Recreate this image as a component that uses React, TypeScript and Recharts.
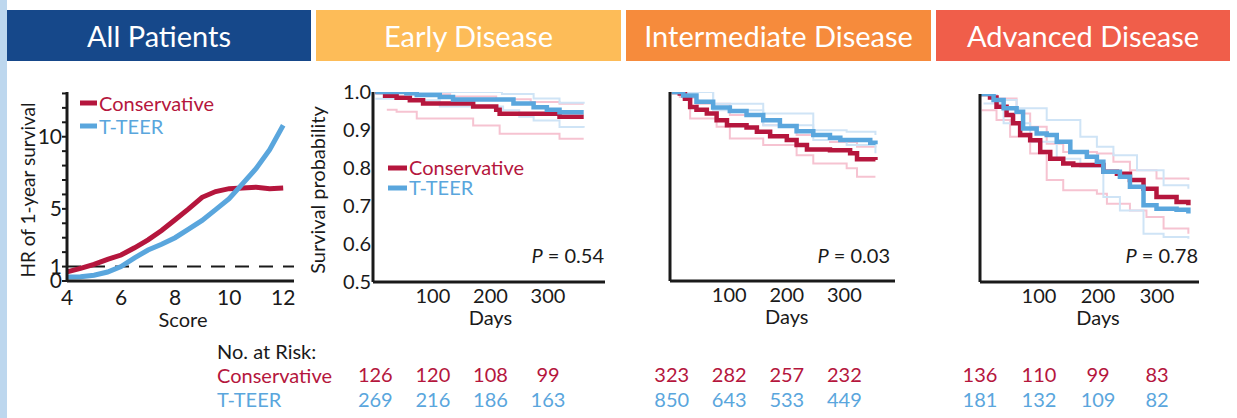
import React from 'react';
import { LineChart, Line, XAxis, YAxis, ReferenceLine } from 'recharts';

const RED = '#b5163d';
const BLUE = '#5aa6dd';
const RED_CI = '#f6c3d1';
const BLUE_CI = '#cfe4f6';
const INK = '#1a1a1a';
const FONT = 'Lato, "Open Sans", sans-serif';

// All patients: HR of 1-year survival by score
const scores = [4, 4.5, 5, 5.5, 6, 6.5, 7, 7.5, 8, 8.5, 9, 9.5, 10, 10.5, 11, 11.5, 12];
const hrConservative = [0.63, 0.88, 1.15, 1.5, 1.8, 2.3, 2.85, 3.5, 4.25, 5.0, 5.8, 6.2, 6.4, 6.45, 6.5, 6.4, 6.45];
const hrTeer = [0.28, 0.3, 0.4, 0.62, 1.0, 1.6, 2.15, 2.55, 3.0, 3.6, 4.2, 4.95, 5.7, 6.75, 7.8, 9.1, 10.8];
const scoreTicks = [4, 6, 8, 10, 12];
const hrTicks = [0, 1, 2, 3, 4, 5, 6, 7, 8, 9, 10, 11, 12, 13];
const hrLabels = [0, 1, 5, 10];

const dayTicks = [0, 100, 200, 300];
const survTicks = [0.5, 0.6, 0.7, 0.8, 0.9, 1.0];

type Pt = [number, number];

// Early disease: [day, survival]
const earlyCons: Pt[] = [[0, 1], [17, 0.99], [37, 0.985], [60, 0.978], [83, 0.97], [170, 0.962], [210, 0.953], [216, 0.943], [320, 0.935], [362, 0.935]];
const earlyTeer: Pt[] = [[0, 1], [54, 0.997], [72, 0.992], [112, 0.987], [135, 0.98], [240, 0.97], [275, 0.96], [298, 0.953], [320, 0.947], [362, 0.947]];
const earlyConsHi: Pt[] = [[0, 1], [60, 0.994], [130, 0.988], [210, 0.981], [270, 0.974], [320, 0.969], [362, 0.969]];
const earlyConsLo: Pt[] = [[20, 0.953], [37, 0.948], [72, 0.93], [170, 0.912], [216, 0.89], [320, 0.877], [362, 0.877]];
const earlyTeerHi: Pt[] = [[0, 1], [220, 0.995], [275, 0.983], [320, 0.972], [362, 0.969]];
const earlyTeerLo: Pt[] = [[0, 0.982], [72, 0.978], [112, 0.962], [222, 0.952], [250, 0.935], [275, 0.925], [320, 0.908], [362, 0.906]];
const riskEarlyCons = [126, 120, 108, 99];
const riskEarlyTeer = [269, 216, 186, 163];

// Intermediate disease
const interCons: Pt[] = [[0, 1], [14, 0.996], [23, 0.982], [32, 0.96], [43, 0.953], [61, 0.943], [78, 0.925], [96, 0.912], [130, 0.906], [148, 0.895], [171, 0.883], [200, 0.873], [217, 0.86], [235, 0.848], [275, 0.846], [310, 0.838], [322, 0.822], [354, 0.82]];
const interTeer: Pt[] = [[0, 1], [20, 0.991], [43, 0.974], [72, 0.959], [101, 0.95], [130, 0.939], [159, 0.925], [188, 0.91], [217, 0.896], [246, 0.886], [275, 0.879], [293, 0.873], [345, 0.866], [354, 0.862]];
const interConsHi: Pt[] = [[0, 1], [20, 0.985], [43, 0.969], [101, 0.939], [159, 0.912], [217, 0.886], [275, 0.868], [322, 0.855], [354, 0.853]];
const interConsLo: Pt[] = [[0, 1], [14, 0.987], [32, 0.93], [78, 0.908], [101, 0.877], [159, 0.86], [217, 0.833], [246, 0.811], [304, 0.798], [322, 0.776], [354, 0.776]];
const interTeerHi: Pt[] = [[0, 1], [72, 0.969], [159, 0.943], [246, 0.899], [304, 0.895], [354, 0.886]];
const interTeerLo: Pt[] = [[0, 1], [72, 0.952], [159, 0.912], [246, 0.873], [304, 0.86], [354, 0.838]];
const riskInterCons = [323, 282, 257, 232];
const riskInterTeer = [850, 643, 533, 449];

// Advanced disease
const advCons: Pt[] = [[0, 1], [17, 0.991], [28, 0.966], [45, 0.944], [56, 0.922], [68, 0.891], [85, 0.877], [102, 0.846], [119, 0.828], [141, 0.815], [158, 0.811], [209, 0.793], [232, 0.788], [254, 0.771], [277, 0.748], [299, 0.726], [333, 0.713], [353, 0.704]];
const advTeer: Pt[] = [[0, 1], [23, 0.984], [40, 0.962], [62, 0.953], [73, 0.908], [96, 0.895], [113, 0.891], [130, 0.873], [153, 0.846], [181, 0.833], [198, 0.82], [209, 0.793], [237, 0.78], [254, 0.753], [277, 0.704], [299, 0.695], [333, 0.692], [353, 0.682]];
const advConsHi: Pt[] = [[0, 1], [28, 0.988], [62, 0.948], [85, 0.913], [113, 0.868], [141, 0.846], [198, 0.842], [226, 0.82], [254, 0.797], [299, 0.775], [353, 0.771]];
const advConsLo: Pt[] = [[3, 0.957], [28, 0.931], [51, 0.886], [85, 0.842], [113, 0.771], [141, 0.744], [198, 0.735], [215, 0.708], [254, 0.69], [282, 0.673], [311, 0.642], [353, 0.628]];
const advTeerHi: Pt[] = [[0, 1], [28, 0.984], [62, 0.962], [113, 0.931], [170, 0.886], [198, 0.86], [226, 0.837], [266, 0.797], [311, 0.757], [353, 0.748]];
const advTeerLo: Pt[] = [[6, 0.975], [40, 0.922], [85, 0.873], [130, 0.828], [170, 0.806], [209, 0.726], [237, 0.69], [277, 0.628], [311, 0.62], [353, 0.615]];
const riskAdvCons = [136, 110, 99, 83];
const riskAdvTeer = [181, 132, 109, 82];

const headers = [
  { title: 'All Patients', color: '#16488a', left: 7, width: 304 },
  { title: 'Early Disease', color: '#fdbc58', left: 316, width: 305 },
  { title: 'Intermediate Disease', color: '#f68b3c', left: 626, width: 305 },
  { title: 'Advanced Disease', color: '#f05e4a', left: 936, width: 294 },
];

const axisLine = { stroke: INK, strokeWidth: 3 };
const rows = (pts: Pt[]) => pts.map(([t, s]) => ({ t, s }));

const hrData = scores.map((s, i) => ({ score: s, cons: hrConservative[i], teer: hrTeer[i] }));

const HrPanel = () => (
  <div style={{ position: 'absolute', left: 0, top: 70 }}>
    <LineChart width={310} height={270} data={hrData} margin={{ top: 22, right: 16, left: 0, bottom: 0 }}>
      <XAxis
        type="number"
        dataKey="score"
        domain={[4, 12.4]}
        ticks={scoreTicks}
        interval={0}
        height={59}
        axisLine={axisLine}
        tickLine={false}
        tickSize={0}
        tickMargin={0}
        tick={(p: any) => (
          <text x={p.x} y={p.y + 24} textAnchor="middle" fontSize={21} fill={INK} fontFamily={FONT}>
            {p.payload.value}
          </text>
        )}
      />
      <YAxis
        type="number"
        domain={[0, 13.1]}
        ticks={hrTicks}
        interval={0}
        width={67}
        axisLine={axisLine}
        tickLine={{ stroke: INK, strokeWidth: 2 }}
        tickSize={5}
        tickMargin={0}
        tick={(p: any) =>
          hrLabels.includes(p.payload.value) ? (
            <text x={p.x} y={p.y} dy={7} textAnchor="end" fontSize={21} fill={INK} fontFamily={FONT}>
              {p.payload.value}
            </text>
          ) : (
            <g />
          )
        }
      />
      <ReferenceLine y={1} stroke={INK} strokeWidth={2} strokeDasharray="14 10" />
      <Line type="linear" dataKey="cons" stroke={RED} strokeWidth={5} dot={false} isAnimationActive={false} />
      <Line type="linear" dataKey="teer" stroke={BLUE} strokeWidth={5} dot={false} isAnimationActive={false} />
    </LineChart>
  </div>
);

type KmProps = {
  left: number;
  width: number;
  yWidth: number;
  top: number;
  right: number;
  domain: [number, number];
  axisH: number;
  showYLabels: boolean;
  cons: Pt[];
  teer: Pt[];
  consHi: Pt[];
  consLo: Pt[];
  teerHi: Pt[];
  teerLo: Pt[];
  riskCons: number[];
  riskTeer: number[];
};

const KmPanel = (k: KmProps) => {
  const dayTick = (p: any) => {
    const v = p.payload.value;
    const i = dayTicks.indexOf(v);
    return (
      <g fontFamily={FONT} fontSize={20} textAnchor="middle">
        {v !== 0 && (
          <text x={p.x} y={p.y + 21} fill={INK}>
            {v}
          </text>
        )}
        {v === 200 && (
          <text x={p.x} y={p.y + 43} fill={INK}>
            Days
          </text>
        )}
        <text x={p.x} y={312} fill={RED}>
          {k.riskCons[i]}
        </text>
        <text x={p.x} y={337} fill={BLUE}>
          {k.riskTeer[i]}
        </text>
      </g>
    );
  };
  const ci = [
    { d: k.consHi, c: RED_CI },
    { d: k.consLo, c: RED_CI },
    { d: k.teerHi, c: BLUE_CI },
    { d: k.teerLo, c: BLUE_CI },
  ];
  return (
    <div style={{ position: 'absolute', left: k.left, top: 70 }}>
      <LineChart width={k.width} height={348} margin={{ top: k.top, right: k.right, left: 0, bottom: 0 }}>
        <XAxis
          type="number"
          dataKey="t"
          domain={k.domain}
          allowDataOverflow
          ticks={dayTicks}
          interval={0}
          height={k.axisH}
          axisLine={axisLine}
          tickLine={false}
          tickSize={0}
          tickMargin={0}
          tick={dayTick}
        />
        <YAxis
          type="number"
          domain={[0.5, 1]}
          allowDataOverflow
          ticks={survTicks}
          interval={0}
          width={k.yWidth}
          axisLine={axisLine}
          tickLine={k.showYLabels ? false : { stroke: INK, strokeWidth: 2 }}
          tickSize={k.showYLabels ? 2 : 6}
          tickMargin={0}
          tick={k.showYLabels ? { fill: INK, fontSize: 20, fontFamily: FONT } : false}
          tickFormatter={(v: number) => v.toFixed(1)}
        />
        {ci.map((s, i) => (
          <Line
            key={i}
            data={rows(s.d)}
            dataKey="s"
            type="stepAfter"
            stroke={s.c}
            strokeWidth={2}
            dot={false}
            isAnimationActive={false}
          />
        ))}
        <Line data={rows(k.cons)} dataKey="s" type="stepAfter" stroke={RED} strokeWidth={4.5} dot={false} isAnimationActive={false} />
        <Line data={rows(k.teer)} dataKey="s" type="stepAfter" stroke={BLUE} strokeWidth={4.5} dot={false} isAnimationActive={false} />
      </LineChart>
    </div>
  );
};

const PValue = ({ x, value }: { x: number; value: string }) => (
  <text x={x} y={263} textAnchor="end" fontSize={20} fill={INK}>
    <tspan fontStyle="italic">P</tspan> = {value}
  </text>
);

const Overlay = () => (
  <svg width={1237} height={418} style={{ position: 'absolute', left: 0, top: 0, pointerEvents: 'none' }} fontFamily={FONT}>
    <line x1={80} x2={97} y1={103} y2={103} stroke={RED} strokeWidth={5} />
    <text x={99} y={111} fontSize={20} fill={RED}>Conservative</text>
    <line x1={80} x2={97} y1={126} y2={126} stroke={BLUE} strokeWidth={5} />
    <text x={99} y={134} fontSize={20} fill={BLUE}>T-TEER</text>

    <line x1={388} x2={407} y1={168} y2={168} stroke={RED} strokeWidth={5} />
    <text x={409} y={175} fontSize={20} fill={RED}>Conservative</text>
    <line x1={388} x2={407} y1={188} y2={188} stroke={BLUE} strokeWidth={5} />
    <text x={409} y={195} fontSize={20} fill={BLUE}>T-TEER</text>

    <text x={35} y={190} transform="rotate(-90 35 190)" textAnchor="middle" fontSize={19} fill={INK}>
      HR of 1-year survival
    </text>
    <text x={325} y={190} transform="rotate(-90 325 190)" textAnchor="middle" fontSize={20} fill={INK}>
      Survival probability
    </text>
    <text x={183} y={327} textAnchor="middle" fontSize={20} fill={INK}>Score</text>

    <PValue x={604} value="0.54" />
    <PValue x={890} value="0.03" />
    <PValue x={1198} value="0.78" />

    <text x={217} y={359} fontSize={20} fill={INK}>No. at Risk:</text>
    <text x={217} y={383} fontSize={20} fill={RED}>Conservative</text>
    <text x={217} y={407} fontSize={20} fill={BLUE}>T-TEER</text>
  </svg>
);

export default function App() {
  return (
    <div style={{ position: 'absolute', left: 0, top: 0, width: 1237, height: 418, background: '#fff', overflow: 'hidden', fontFamily: FONT }}>
      <div style={{ position: 'absolute', left: 0, top: 0, width: 7, height: 418, background: '#bdd7ee' }} />
      {headers.map((h) => (
        <div
          key={h.title}
          style={{
            position: 'absolute',
            left: h.left,
            top: 10,
            width: h.width,
            height: 51,
            background: h.color,
            color: '#fff',
            fontSize: 29,
            lineHeight: '51px',
            textAlign: 'center',
          }}
        >
          {h.title}
        </div>
      ))}
      <HrPanel />
      <KmPanel
        left={300} width={320} yWidth={73} top={22} right={15} domain={[-4, 399]} axisH={136} showYLabels
        cons={earlyCons} teer={earlyTeer} consHi={earlyConsHi} consLo={earlyConsLo} teerHi={earlyTeerHi} teerLo={earlyTeerLo}
        riskCons={riskEarlyCons} riskTeer={riskEarlyTeer}
      />
      <KmPanel
        left={630} width={280} yWidth={40} top={22} right={15} domain={[-3, 388]} axisH={137} showYLabels={false}
        cons={interCons} teer={interTeer} consHi={interConsHi} consLo={interConsLo} teerHi={interTeerHi} teerLo={interTeerLo}
        riskCons={riskInterCons} riskTeer={riskInterTeer}
      />
      <KmPanel
        left={930} width={290} yWidth={50} top={24} right={21} domain={[0, 371]} axisH={136} showYLabels={false}
        cons={advCons} teer={advTeer} consHi={advConsHi} consLo={advConsLo} teerHi={advTeerHi} teerLo={advTeerLo}
        riskCons={riskAdvCons} riskTeer={riskAdvTeer}
      />
      <Overlay />
    </div>
  );
}
